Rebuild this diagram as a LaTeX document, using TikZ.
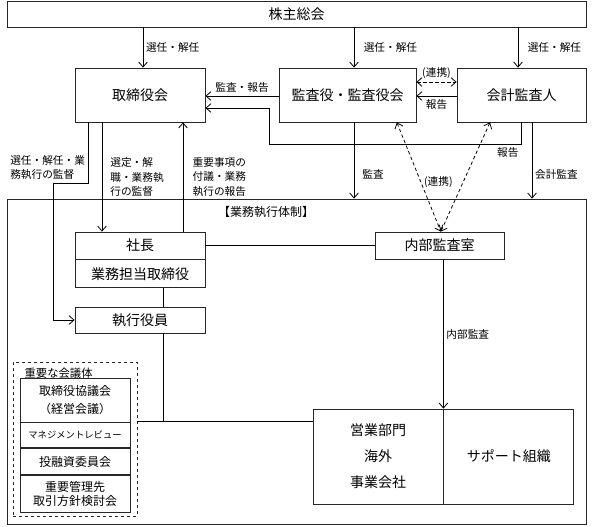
\documentclass[tikz,border=0pt]{standalone}
\usepackage{fontspec}
\setmainfont{Noto Sans CJK JP}
\usetikzlibrary{arrows.meta, positioning}

\begin{document}
\begin{tikzpicture}[
    x=0.75pt, y=-0.75pt,
    box/.style={rectangle, draw=black!85, line width=0.6pt, inner sep=0pt, align=center, font=\fontsize{10.5}{13}\selectfont},
    meetbox/.style={rectangle, draw=black!85, line width=0.6pt, inner sep=0pt, align=center, minimum width=82.5pt, font=\fontsize{9}{10.5}\selectfont},
    lbl/.style={font=\fontsize{8}{11}\selectfont, align=left, inner sep=2pt},
    arrow/.style={-{Straight Barb[length=3.75pt,width=6.5pt]}, line width=0.6pt},
    darrow/.style={{Straight Barb[length=3.75pt,width=6.5pt]}-{Straight Barb[length=3.75pt,width=6.5pt]}, line width=0.6pt, dash pattern=on 2.5pt off 2pt},
    conn/.style={line width=0.6pt}
]
\useasboundingbox (0,0) rectangle (599,526);

\node[box, minimum width=434.25pt, minimum height=19.5pt] (agm) at (296.5,14) {株主総会};
\node[box, minimum width=97.5pt, minimum height=40.5pt] (board) at (140,95) {取締役会};
\node[box, minimum width=102.75pt, minimum height=40.5pt] (kansa) at (347.5,95) {監査役・監査役会};
\node[box, minimum width=96.75pt, minimum height=40.5pt] (kaikei) at (521.5,95) {会計監査人};

% 業務執行体制
\node[box, minimum width=434.25pt, minimum height=243.75pt] (frame) at (296.5,361.5) {};
\node[font=\fontsize{9}{11}\selectfont] (frametitle) at (266,212) {【業務執行体制】};

\node[box, minimum width=97.5pt, minimum height=20.25pt] (president) at (140,245.5) {社長};
\node[box, minimum width=97.5pt, minimum height=21pt, below=0pt of president] (execdir) {業務担当取締役};
\node[box, minimum width=97.5pt, minimum height=19.5pt] (officers) at (140,320) {執行役員};
\node[box, minimum width=96.75pt, minimum height=20.25pt] (iaudit) at (439.5,245.5) {内部監査室};

\node[box, minimum width=97.5pt, minimum height=71.25pt, font=\fontsize{10.5}{19.5}\selectfont] (sales) at (378,456.5) {営業部門\\海外\\事業会社};
\node[box, minimum width=97.5pt, minimum height=71.25pt, right=0pt of sales] (support) {サポート組織};

% 重要な会議体
\node[box, dash pattern=on 2.5pt off 2pt, minimum width=93pt, minimum height=115.5pt] (meeting) at (75,439) {};
\node[font=\fontsize{8.5}{11}\selectfont, anchor=west, inner sep=1pt] (meettitle) at (23,373) {重要な会議体};
\node[meetbox, minimum height=33pt, font=\fontsize{9}{13.5}\selectfont] (m1) at (75,400) {取締役協議会\\（経営会議）};
\node[meetbox, minimum height=18.75pt, below=0pt of m1, font=\fontsize{7}{9}\selectfont] (m2) {マネジメントレビュー};
\node[meetbox, minimum height=19.5pt, below=0pt of m2] (m3) {投融資委員会};
\node[meetbox, minimum height=27.75pt, below=0pt of m3] (m4) {重要管理先\\取引方針検討会};

% Arrows
\draw[arrow] ([xshift=2.25pt]board.north |- agm.south) -- node[lbl, right] {選任・解任} ([xshift=2.25pt]board.north);
\draw[arrow] ([xshift=4.9pt]kansa.north |- agm.south) -- node[lbl, right=5pt] {選任・解任} ([xshift=4.9pt]kansa.north);
\draw[arrow] ([xshift=-2.6pt]kaikei.north |- agm.south) -- node[lbl, right=5pt] {選任・解任} ([xshift=-2.6pt]kaikei.north);

\draw[arrow] ([yshift=-0.75pt]kansa.west) -- node[lbl, above] {監査・報告} ([yshift=-0.75pt]board.east);
\coordinate (rpt) at (269,144);
\draw[arrow] (kaikei.south) |- node[lbl, below left] {報告} (rpt) |- ([yshift=-9.75pt]board.east);

\draw[darrow] ([yshift=9.75pt]kansa.east) -- node[lbl, above] {(連携)} ([yshift=9.75pt]kaikei.west);
\draw[arrow] ([yshift=-0.75pt]kaikei.west) -- node[lbl, below] {報告} ([yshift=-0.75pt]kansa.east);

\draw[arrow] ([xshift=4.9pt]kansa.south) -- node[lbl, right=4pt, pos=0.68] {監査} ([xshift=4.9pt]kansa.south |- frame.north);
\draw[arrow] ([xshift=7.9pt]kaikei.south) -- node[lbl, right, pos=0.68] {会計監査} ([xshift=7.9pt]kaikei.south |- frame.north);

\draw[darrow] ([xshift=37pt]kansa.south) -- node[lbl, right, pos=0.55] {(連携)} ([xshift=1pt]iaudit.north);
\draw[darrow] ([xshift=-23.6pt]kaikei.south) -- ([xshift=1pt]iaudit.north);

\coordinate (selbend) at (53,183);
\draw[arrow] ([xshift=-39pt]board.south) |- node[lbl, above left] {選任・解任・業\\務執行の監督} (selbend) |- (officers.west);
\draw[arrow] ([xshift=-28.5pt]board.south) -- node[lbl, right=4pt] {選定・解\\職・業務執\\行の監督} ([xshift=-28.5pt]board.south |- president.north);
\draw[arrow] ([xshift=32.25pt]president.north) -- node[lbl, right=5pt] {重要事項の\\付議・業務\\執行の報告} ([xshift=32.25pt]board.south);

\draw[conn] (president.east) -- (iaudit.west);
\draw[conn] ([xshift=17.25pt]execdir.south) -- ([xshift=17.25pt]officers.north);
\coordinate (join) at (163,421);
\draw[conn] ([xshift=17.25pt]officers.south) -- (join);
\draw[conn] (meeting.east |- join) -- (sales.west |- join);
\draw[arrow] (sales.north east |- iaudit.south) -- node[lbl, right] {内部監査} (sales.north east);

\end{tikzpicture}
\end{document}
